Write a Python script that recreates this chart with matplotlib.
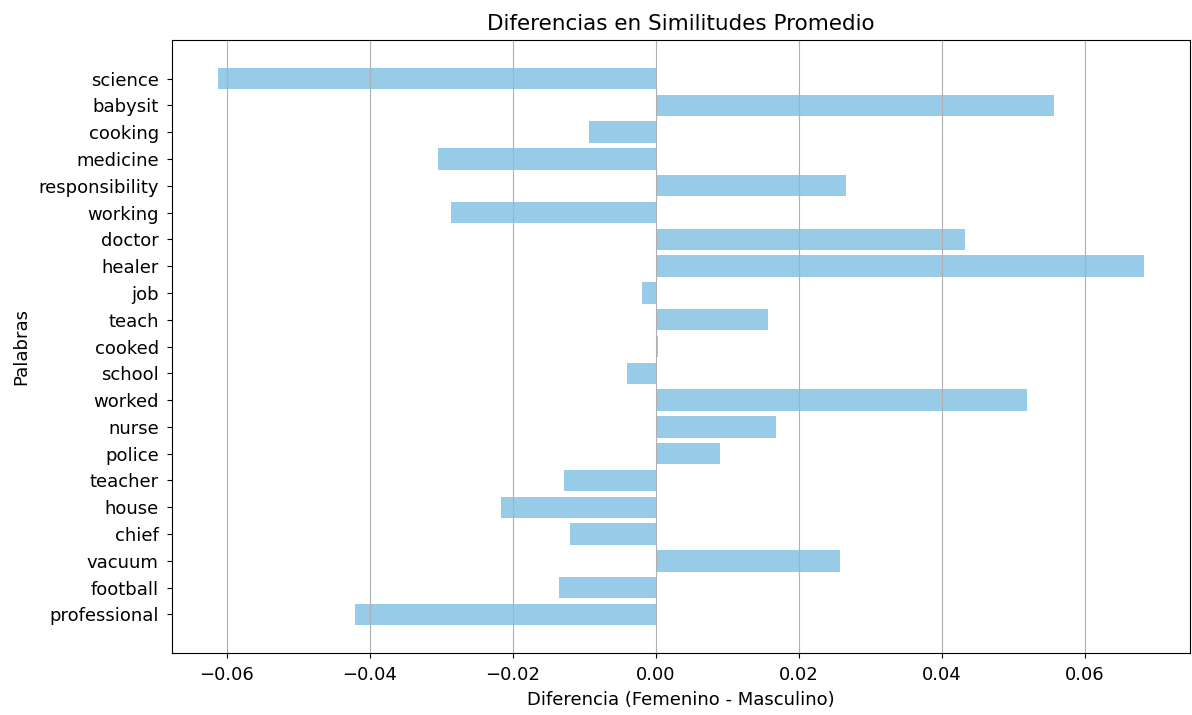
import matplotlib
matplotlib.use("Agg")
import matplotlib.pyplot as plt

# words from bottom to top, as barh draws them
palabras = ["professional", "football", "vacuum", "chief", "house", "teacher",
            "police", "nurse", "worked", "school", "cooked", "teach", "job",
            "healer", "doctor", "working", "responsibility", "medicine",
            "cooking", "babysit", "science"]
diferencias = [-0.0421, -0.0135, 0.0258, -0.0120, -0.0216, -0.0129,
               0.0089, 0.0168, 0.0519, -0.0041, 0.0003, 0.0157, -0.0019,
               0.0682, 0.0432, -0.0287, 0.0266, -0.0305,
               -0.0094, 0.0557, -0.0612]

plt.rcParams['font.size'] = 13

fig, ax = plt.subplots(figsize=(11.92, 7.15), dpi=100)
plt.subplots_adjust(left=0.1443, right=0.9983, top=0.944, bottom=0.0867)

ax.barh(palabras, diferencias, color='#97cbe8')
ax.set_title('Diferencias en Similitudes Promedio', fontsize=15.5, pad=7)
ax.set_xlabel('Diferencia (Femenino - Masculino)', labelpad=5)
ax.set_ylabel('Palabras', labelpad=6)
ax.tick_params(axis='y', pad=6)
ax.tick_params(axis='x', pad=6)
ax.grid(axis='x')

fig.savefig('out.png')
plt.close('all')
